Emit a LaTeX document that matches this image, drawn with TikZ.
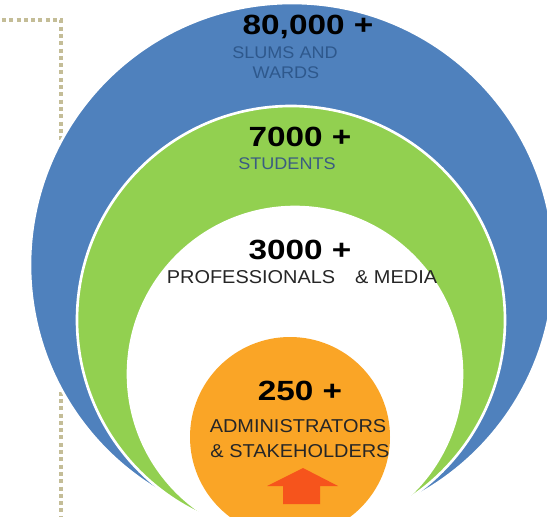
\documentclass[tikz,border=0pt]{standalone}
\usepackage{fontspec}
\setmainfont{Liberation Sans}
\definecolor{ringblue}{RGB}{79,129,189}
\definecolor{ringgreen}{RGB}{146,208,80}
\definecolor{coreorange}{RGB}{250,165,38}
\definecolor{arrowred}{RGB}{246,84,28}
\definecolor{dottan}{RGB}{196,189,151}
\definecolor{slumtext}{RGB}{46,88,140}
\definecolor{studtext}{RGB}{58,92,130}
\begin{document}
\begin{tikzpicture}
    [ring/.style={circle, inner sep=0pt, draw=white, line width=1.5pt},
     bignum/.style={font=\fontsize{15.8}{18}\selectfont\bfseries, xscale=1.2, anchor=base},
     grouptext/.style={font=\fontsize{10.6}{12}\selectfont, xscale=1.07, anchor=base},
     smalltext/.style={font=\fontsize{9.6}{11}\selectfont, xscale=1.07, anchor=base}]
    \useasboundingbox (0,0) rectangle (10.94,-10.34);
    \clip (0,0) rectangle (10.94,-10.34);

    % dotted frame behind the rings
    \coordinate (dotstart) at (0.04,-0.4);
    \coordinate (dotcorner) at (1.22,-0.4);
    \coordinate (dotend) at (1.22,-10.4);
    \draw[dottan, line width=0.08cm, dash pattern=on 0.08cm off 0.066cm] (dotstart) -- (dotcorner) -- (dotend);

    \node[ring, fill=ringblue, minimum size=10.48cm] (slums) at (5.84,-5.30) {};
    \node[ring, fill=ringgreen, minimum size=8.56cm] (students) at (5.82,-6.40) {};
    \node[ring, fill=white, minimum size=6.68cm] (profs) at (5.90,-7.48) {};
    \node[circle, inner sep=0pt, fill=coreorange, minimum size=4cm] (admins) at (5.80,-8.74) {};

    \node[bignum] (n80) at (6.16,-0.70) {80,000 +};
    \node[smalltext, text=slumtext] (slumsA) at (5.70,-1.18) {SLUMS AND};
    \node[smalltext, text=slumtext] (slumsB) at (5.72,-1.58) {WARDS};

    \node[bignum] (n7000) at (6.0,-2.94) {7000 +};
    \node[smalltext, text=studtext] (studs) at (5.74,-3.40) {STUDENTS};

    \node[bignum] (n3000) at (6.0,-5.20) {3000 +};
    \node[grouptext, text=black!85] (prof) at (6.04,-5.66) {PROFESSIONALS\hspace{1em}\& MEDIA};

    \node[bignum] (n250) at (6.0,-8.0) {250 +};
    \node[grouptext, text=black!85] (admA) at (5.96,-8.64) {ADMINISTRATORS};
    \node[grouptext, text=black!85] (admB) at (6.0,-9.14) {\& STAKEHOLDERS};

    % upward arrow at the bottom
    \fill[arrowred] (6.06,-9.36) -- (6.76,-9.72) -- (6.40,-9.72) -- (6.40,-10.08)
        -- (5.66,-10.08) -- (5.66,-9.72) -- (5.34,-9.72) -- cycle;
\end{tikzpicture}
\end{document}
